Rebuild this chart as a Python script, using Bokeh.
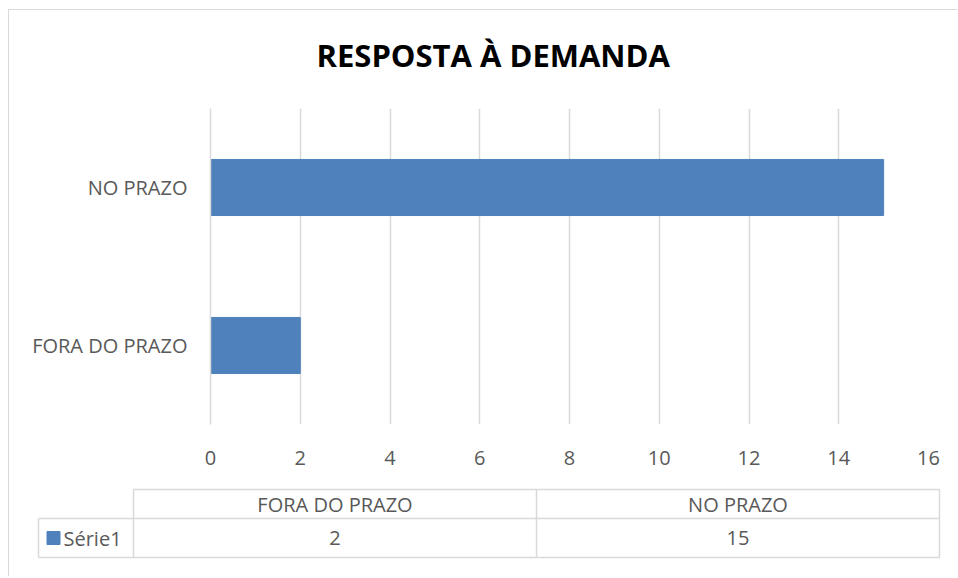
from bokeh.plotting import figure
from bokeh.models import (ColumnDataSource, FactorRange, Range1d, FixedTicker, Title)
from bokeh.layouts import column
from bokeh.core.properties import value
from bokeh.embed import file_html
from bokeh.resources import INLINE

# ---- data ----
title_text = "RESPOSTA À DEMANDA"
categories = ["FORA DO PRAZO", "NO PRAZO"]
values = [2, 15]
series_name = "Série1"
x_ticks = [0, 2, 4, 6, 8, 10, 12, 14, 16]

BAR = "#4F81BD"
GRID = "#d9d9d9"
TXT = "#595959"
FONT = "Open Sans"
FS = "20px"

W = 948
src = ColumnDataSource(dict(cat=categories, val=values))

p = figure(width=W, height=466, output_backend="svg", toolbar_location=None,
           y_range=FactorRange(factors=categories, range_padding=0),
           x_range=Range1d(x_ticks[0], x_ticks[-1]),
           min_border_left=201, min_border_right=W - 919,
           min_border_top=98, min_border_bottom=52)
p.frame_align = False
p.hbar(y="cat", right="val", left=0, height=0.355, color=BAR, source=src)

p.xaxis.ticker = FixedTicker(ticks=x_ticks)
p.xgrid.grid_line_color = GRID
p.xgrid.grid_line_width = 1.5
p.ygrid.grid_line_color = None
p.outline_line_color = None
for ax in (p.xaxis, p.yaxis):
    ax.axis_line_color = None
    ax.major_tick_line_color = None
    ax.minor_tick_line_color = None
    ax.major_label_text_font = FONT
    ax.major_label_text_font_size = FS
    ax.major_label_text_color = TXT
p.yaxis.axis_line_color = GRID
p.yaxis.axis_line_width = 1.5
p.xaxis.major_label_standoff = 20
p.yaxis.major_label_standoff = 17

# spacer between title and frame (nearest the frame), then the title
p.add_layout(Title(text=" ", text_font_size="14px"), "above")
p.add_layout(Title(text=title_text, align="left", offset=106,
                   text_font=FONT, text_font_style="bold",
                   text_font_size="31px", text_color="#000000"), "above")

# ---- data table below ----
H2 = 100
t = figure(width=W, height=H2, output_backend="svg", toolbar_location=None,
           x_range=Range1d(0, W), y_range=Range1d(H2, 0),
           min_border=0, min_border_left=0, min_border_right=0,
           min_border_top=0, min_border_bottom=0)
t.frame_align = False
t.axis.visible = False
t.grid.visible = False
t.outline_line_color = None

leg_l, leg_r, tab_r = 29, 124, 930
top, mid, bot = 13, 42, 81
n = len(categories)
colw = (tab_r - leg_r) / n
col_edges = [leg_r + i * colw for i in range(n + 1)]
col_centers = [leg_r + (i + 0.5) * colw for i in range(n)]

t.segment(x0=[leg_r, leg_l, leg_l], x1=[tab_r, tab_r, tab_r],
          y0=[top, mid, bot], y1=[top, mid, bot], line_color=GRID, line_width=1.5)
t.segment(x0=[leg_l] + col_edges, x1=[leg_l] + col_edges,
          y0=[mid] + [top] * (n + 1), y1=[bot] * (n + 2),
          line_color=GRID, line_width=1.5)

hdr = ColumnDataSource(dict(x=col_centers, y=[(top + mid) / 2] * n, t=categories))
t.text(x="x", y="y", text="t", source=hdr, text_align="center", text_baseline="middle",
       text_font=value(FONT), text_font_size=FS, text_color=TXT)
vals = ColumnDataSource(dict(x=col_centers, y=[(mid + bot) / 2] * n,
                             t=[str(v) for v in values]))
t.text(x="x", y="y", text="t", source=vals, text_align="center", text_baseline="middle",
       text_font=value(FONT), text_font_size=FS, text_color=TXT)
t.scatter(x=[leg_l + 15], y=[(mid + bot) / 2], marker="square", size=13,
          color=BAR)
t.text(x=[leg_l + 25], y=[(mid + bot) / 2], text=[series_name], text_align="left",
       text_baseline="middle", text_font=value(FONT), text_font_size=FS,
       text_color=TXT)

layout = column(p, t, spacing=0, styles={
    "margin-left": "8px", "margin-top": "9px",
    "border-left": "1px solid #d9d9d9", "border-top": "1px solid #d9d9d9"})
open("out.html", "w").write(file_html(layout, INLINE))
